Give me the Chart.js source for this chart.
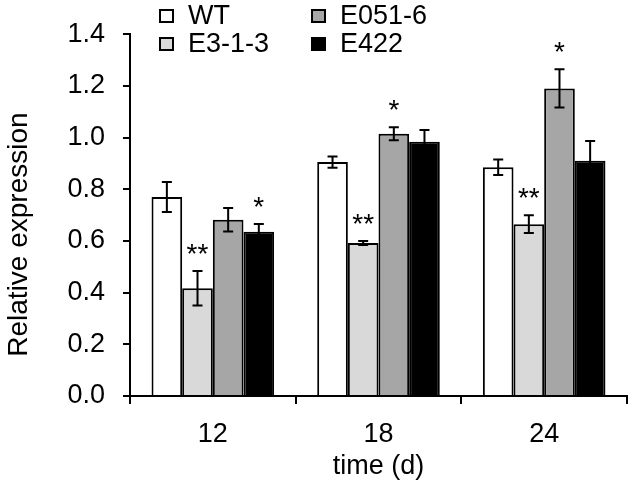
<!DOCTYPE html>
<html>
<head>
<meta charset="utf-8">
<script src="https://cdn.jsdelivr.net/npm/chart.js@4.4.0/dist/chart.umd.min.js"></script>
<style>
  html, body { margin: 0; padding: 0; background: #fff; }
  #wrap { width: 632px; height: 491px; }
</style>
</head>
<body>
<div id="wrap"><canvas id="myChart" width="632" height="491"></canvas></div>
<script>
// time points (days)
var days = ['12', '18', '24'];

// relative expression
var wt = [0.77, 0.905, 0.885];
var wtErr = [0.058, 0.022, 0.03];
var e313 = [0.417, 0.592, 0.665];
var e313Err = [0.067, 0.008, 0.034];
var e0516 = [0.682, 1.015, 1.19];
var e0516Err = [0.045, 0.025, 0.074];
var e422 = [0.636, 0.984, 0.91];
var e422Err = [0.03, 0.045, 0.077];

// significance marks above each bar
var wtSig = ['', '', ''];
var e313Sig = ['**', '**', '**'];
var e0516Sig = ['', '*', '*'];
var e422Sig = ['*', '', ''];

var yMin = 0, yMax = 1.4, yStep = 0.2;

var FONT = '"Liberation Sans", Arial, sans-serif';
var FS = 27;

const ctx = document.getElementById('myChart').getContext('2d');

// error bars + stars
const errorBars = {
    id: 'errorBars',
    afterDatasetsDraw(chart) {
        const c = chart.ctx;
        const ys = chart.scales.y;
        chart.data.datasets.forEach(function (ds, di) {
            const meta = chart.getDatasetMeta(di);
            meta.data.forEach(function (bar, i) {
                const v = ds.data[i], e = ds.errors[i];
                const top = ys.getPixelForValue(v + e);
                const bot = ys.getPixelForValue(v - e);
                c.save();
                c.strokeStyle = '#000';
                c.lineWidth = 2;
                c.beginPath();
                c.moveTo(bar.x, top); c.lineTo(bar.x, bot);
                c.moveTo(bar.x - 5, top); c.lineTo(bar.x + 5, top);
                c.moveTo(bar.x - 5, bot); c.lineTo(bar.x + 5, bot);
                c.stroke();
                if (ds.sig[i]) {
                    c.fillStyle = '#000';
                    c.font = '28px ' + FONT;
                    c.textAlign = 'center';
                    c.textBaseline = 'alphabetic';
                    c.fillText(ds.sig[i], bar.x, top - 8);
                }
                c.restore();
            });
        });
    }
};

// legend in two columns like the original
const boxLegend = {
    id: 'boxLegend',
    afterDraw(chart) {
        const c = chart.ctx;
        const items = [
            { ds: 0, x: 160, y: 10 },
            { ds: 2, x: 312, y: 10 },
            { ds: 1, x: 160, y: 38 },
            { ds: 3, x: 312, y: 38 }
        ];
        c.save();
        c.font = FS + 'px ' + FONT;
        c.textBaseline = 'alphabetic';
        c.textAlign = 'left';
        items.forEach(function (it) {
            const ds = chart.data.datasets[it.ds];
            c.fillStyle = ds.backgroundColor;
            c.fillRect(it.x, it.y, 13, 12);
            c.strokeStyle = '#000';
            c.lineWidth = 2;
            c.strokeRect(it.x, it.y, 13, 12);
            c.fillStyle = '#000';
            c.fillText(ds.label, it.x + 28, it.y + 14);
        });
        c.restore();
    }
};

const myChart = new Chart(ctx, {
    type: 'bar',
    data: {
        labels: days,
        datasets: [
            { label: 'WT', data: wt, errors: wtErr, sig: wtSig, backgroundColor: '#ffffff' },
            { label: 'E3-1-3', data: e313, errors: e313Err, sig: e313Sig, backgroundColor: '#d9d9d9' },
            { label: 'E051-6', data: e0516, errors: e0516Err, sig: e0516Sig, backgroundColor: '#a6a6a6' },
            { label: 'E422', data: e422, errors: e422Err, sig: e422Sig, backgroundColor: '#000000' }
        ]
    },
    options: {
        responsive: false,
        animation: false,
        devicePixelRatio: 1,
        datasets: {
            bar: {
                borderColor: '#000',
                borderWidth: 2,
                categoryPercentage: 0.74,
                barPercentage: 1
            }
        },
        layout: { padding: { top: 29, right: 5, left: 0, bottom: 0 } },
        plugins: {
            legend: { display: false },
            tooltip: { enabled: false }
        },
        scales: {
            x: {
                grid: { offset: true, drawOnChartArea: false, color: '#000', lineWidth: 2, tickLength: 8 },
                border: { color: '#000', width: 2 },
                ticks: { color: '#000', font: { family: FONT, size: FS }, padding: 14 },
                title: { display: true, text: 'time (d)', color: '#000', font: { family: FONT, size: FS }, padding: { top: 0, bottom: 8 } },
                afterFit: function (s) { s.height = 95; }
            },
            y: {
                min: yMin,
                max: yMax,
                grid: { drawOnChartArea: false, color: '#000', lineWidth: 2, tickLength: 7 },
                border: { color: '#000', width: 2 },
                ticks: {
                    stepSize: yStep,
                    color: '#000',
                    font: { family: FONT, size: FS },
                    padding: 18,
                    callback: function (value) { return value.toFixed(1); }
                },
                // trailing spaces push the centred title a little lower, as in the figure
                title: { display: true, text: 'Relative expression     ', color: '#000', font: { family: FONT, size: 28 }, padding: { top: 2, bottom: 0 } },
                afterFit: function (s) { s.width = 130; }
            }
        }
    },
    plugins: [errorBars, boxLegend]
});
</script>
</body>
</html>
